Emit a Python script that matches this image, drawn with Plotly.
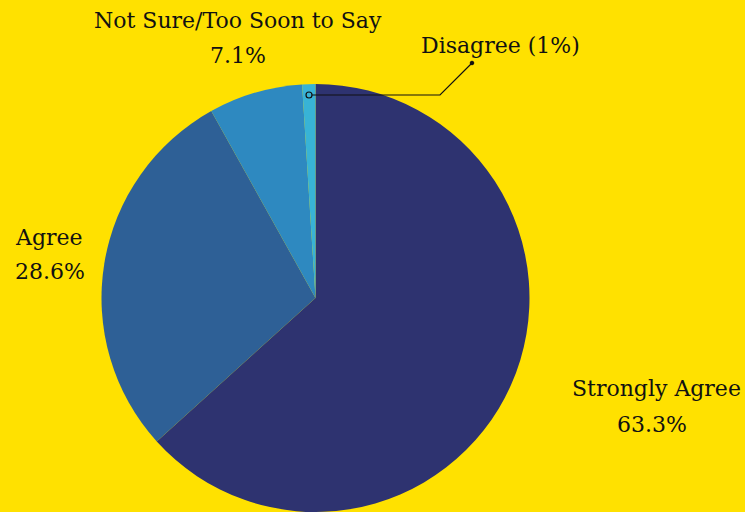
import plotly.graph_objects as go

# Survey responses (percent of respondents)
labels = ["Strongly Agree", "Agree", "Not Sure/Too Soon to Say", "Disagree"]
values = [63.3, 28.6, 7.1, 1.0]
colors = ["#2E3370", "#2E6096", "#2E89C0", "#38B3D6"]

W, H = 745, 512
BG = "#FFE100"
FONT = "DejaVu Serif"
FSIZE = 22


def px(x, y):
    """Convert pixel position to paper coordinates."""
    return x / W, 1 - y / H


cx, top = 315.5, 84
r = (H - top) / 2

fig = go.Figure(
    go.Pie(
        labels=labels,
        values=values,
        marker=dict(colors=colors, line=dict(width=0)),
        sort=False,
        direction="clockwise",
        rotation=0,
        textinfo="none",
        hoverinfo="label+percent",
        showlegend=False,
        domain=dict(x=[(cx - r) / W, (cx + r) / W], y=[0, 1 - top / H]),
    )
)

# Label placement (pixel centres for each line of text)
label_pos = {
    "Strongly Agree": [(656, 388, "center"), (652, 424, "center")],
    "Agree": [(13, 237, "left"), (13, 271, "left")],
    "Not Sure/Too Soon to Say": [(238, 20, "center"), (238, 55, "center")],
}

annotations = []
for lab, val in zip(labels, values):
    if lab in label_pos:
        lines = [lab, f"{val:.1f}%"]
        for text, (x, y, anchor) in zip(lines, label_pos[lab]):
            ax, ay = px(x, y)
            annotations.append(dict(
                x=ax, y=ay, xref="paper", yref="paper", text=text,
                showarrow=False, xanchor=anchor, yanchor="middle",
                font=dict(family=FONT, size=FSIZE, color="#111111"),
            ))
    else:
        ax, ay = px(500, 45)
        annotations.append(dict(
            x=ax, y=ay, xref="paper", yref="paper", text=f"{lab} ({val:g}%)",
            showarrow=False, xanchor="center", yanchor="middle",
            font=dict(family=FONT, size=FSIZE, color="#111111"),
        ))

# Leader line for the small slice
p0 = px(309, 95)
p1 = px(440, 95)
p2 = px(472, 63)
shapes = [
    dict(type="path", xref="paper", yref="paper",
         path=f"M {p0[0]},{p0[1]} L {p1[0]},{p1[1]} L {p2[0]},{p2[1]}",
         line=dict(color="#111111", width=1.2)),
    dict(type="circle", xref="paper", yref="paper",
         x0=(309 - 3) / W, x1=(309 + 3) / W, y0=1 - (95 + 3) / H, y1=1 - (95 - 3) / H,
         line=dict(color="#111111", width=1.2), fillcolor=colors[3]),
    dict(type="circle", xref="paper", yref="paper",
         x0=(472 - 1.8) / W, x1=(472 + 1.8) / W, y0=1 - (63 + 1.8) / H, y1=1 - (63 - 1.8) / H,
         line=dict(color="#111111", width=1), fillcolor="#111111"),
]

fig.update_layout(
    width=W, height=H,
    margin=dict(l=0, r=0, t=0, b=0),
    paper_bgcolor=BG, plot_bgcolor=BG,
    annotations=annotations,
    shapes=shapes,
)

fig.write_html("out.html")
